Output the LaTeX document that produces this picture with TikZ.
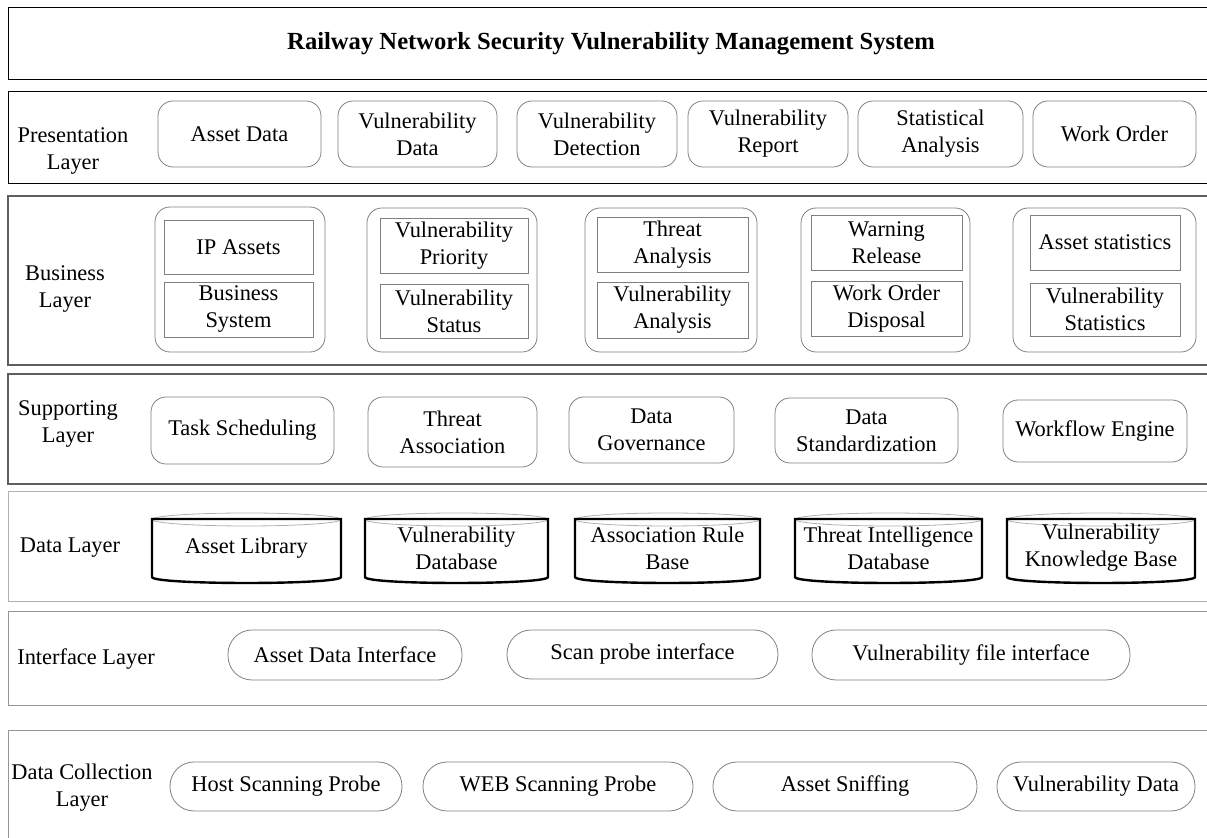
\documentclass[tikz,border=0pt]{standalone}
\usepackage{fontspec}
\setmainfont{Liberation Serif}
\usetikzlibrary{positioning,fit}

\definecolor{boxgray}{HTML}{808080}
\definecolor{laygray}{HTML}{5E5E5E}
\definecolor{palegray}{HTML}{B0B0B0}
\definecolor{midgray}{HTML}{959595}

\begin{document}
\begin{tikzpicture}[x=0.5pt,y=-0.5pt,font=\fontsize{11.2}{13.5}\selectfont]
		\tikzstyle{rbox}=[draw=boxgray,rounded corners=7.5pt,inner sep=0pt,line width=0.4pt]
		\tikzstyle{ibox}=[draw=boxgray,inner sep=0pt,line width=0.4pt]
		\tikzstyle{pill}=[draw=boxgray,rounded corners=12pt,inner sep=0pt,line width=0.4pt]
		\tikzstyle{lbl}=[align=center,inner sep=0pt]
		\clip (0,0) rectangle (1207,838);
		% layers
		\draw[line width=0.5pt] (8,8) rectangle (1215,80);
		\draw[line width=0.5pt] (8,92) rectangle (1215,184);
		\draw[laygray,line width=0.9pt] (8,196) rectangle (1215,365);
		\draw[laygray,line width=0.9pt] (8,374) rectangle (1215,484);
		\draw[palegray,line width=0.5pt] (8,492) rectangle (1215,602);
		\draw[midgray,line width=0.5pt] (8,612) rectangle (1215,706);
		\draw[midgray,line width=0.5pt] (8,731) rectangle (1215,850);
		\node[font=\fontsize{12.3}{14}\selectfont\bfseries] (title) at (611,44) {Railway Network Security Vulnerability Management System};
		% presentation layer
		\node[lbl] (pres) at (73,151) {Presentation\\Layer};
		\node[rbox,fit={(158,101) (321,167)},label={[lbl]center:Asset Data}] (p1) {};
		\node[rbox,fit={(338,101) (497,167)},label={[lbl]center:Vulnerability\\Data}] (p2) {};
		\node[rbox,fit={(517,101) (677,167)},label={[lbl]center:Vulnerability\\Detection}] (p3) {};
		\node[rbox,fit={(688,101) (848,167)},label={[lbl]center:Vulnerability\\Report}] (p4) {};
		\node[rbox,fit={(858,101) (1023,167)},label={[lbl]center:Statistical\\Analysis}] (p5) {};
		\node[rbox,fit={(1033,101) (1196,167)},label={[lbl]center:Work Order}] (p6) {};
		% business layer
		\node[lbl] (bus) at (65,289) {Business\\Layer};
		\node[rbox,fit={(155,207) (325,352)}] (b1) {};
		\node[ibox,fit={(164,220) (313,274)},label={[lbl]center:IP Assets}] (b1a) {};
		\node[ibox,fit={(164,282) (313,337)},label={[lbl]center:Business\\System}] (b1b) {};
		\node[rbox,fit={(367,208) (537,352)}] (b2) {};
		\node[ibox,fit={(380,218) (528,273)},label={[lbl]center:Vulnerability\\Priority}] (b2a) {};
		\node[ibox,fit={(380,284) (528,338)},label={[lbl]center:Vulnerability\\Status}] (b2b) {};
		\node[rbox,fit={(585,208) (757,352)}] (b3) {};
		\node[ibox,fit={(597,217) (748,272)},label={[lbl]center:Threat\\Analysis}] (b3a) {};
		\node[ibox,fit={(597,282) (748,338)},label={[lbl]center:Vulnerability\\Analysis}] (b3b) {};
		\node[rbox,fit={(801,208) (970,352)}] (b4) {};
		\node[ibox,fit={(811,215) (962,270)},label={[lbl]center:Warning\\Release}] (b4a) {};
		\node[ibox,fit={(811,281) (962,336)},label={[lbl]center:Work Order\\Disposal}] (b4b) {};
		\node[rbox,fit={(1013,208) (1196,352)}] (b5) {};
		\node[ibox,fit={(1030,215) (1180,270)},label={[lbl]center:Asset statistics}] (b5a) {};
		\node[ibox,fit={(1030,283) (1180,336)},label={[lbl]center:Vulnerability\\Statistics}] (b5b) {};
		% supporting layer
		\node[lbl] (sup) at (68,424) {Supporting\\Layer};
		\node[rbox,fit={(151,397) (334,464)},label={[lbl]center:Task Scheduling}] (s1) {};
		\node[rbox,fit={(368,397) (537,467)},label={[lbl]center:Threat\\Association}] (s2) {};
		\node[rbox,fit={(569,397) (734,463)},label={[lbl]center:Data\\Governance}] (s3) {};
		\node[rbox,fit={(775,398) (958,463)},label={[lbl]center:Data\\Standardization}] (s4) {};
		\node[rbox,fit={(1003,400) (1187,462)},label={[lbl]center:Workflow Engine}] (s5) {};
		% data layer
		\node[lbl] (dat) at (70,548) {Data Layer};
		\foreach \a/\b/\n/\t in {152/341/d1/Asset Library, 365/548/d2/Vulnerability\\Database,
			575/760/d3/Association Rule\\Base, 795/982/d4/Threat Intelligence\\Database,
			1007/1195/d5/Vulnerability\\Knowledge Base}{
			\draw[palegray,line width=0.4pt] ({(\a+\b)/2},519.5) ellipse [x radius={(\b-\a)/2}, y radius=6.5];
			\draw[line width=1.2pt] (\a,519) -- (\a,577) .. controls (\a,585) and (\b,585) .. (\b,577) -- (\b,519) -- cycle;
			\node[lbl] (\n) at ({(\a+\b)/2},548) {\t};
		}
		% interface layer
		\node[lbl] (intf) at (86,659) {Interface Layer};
		\node[pill,fit={(228,630) (462,680)},label={[lbl]center:Asset Data Interface}] (i1) {};
		\node[pill,fit={(507,630) (778,679)},label={[lbl]center:Scan probe interface}] (i2) {};
		\node[pill,fit={(812,630) (1130,680)},label={[lbl]center:Vulnerability file interface}] (i3) {};
		% data collection layer
		\node[lbl] (coll) at (82,788) {Data Collection\\Layer};
		\node[pill,fit={(170,762) (402,811)},label={[lbl]center:Host Scanning Probe}] (c1) {};
		\node[pill,fit={(423,762) (693,811)},label={[lbl]center:WEB Scanning Probe}] (c2) {};
		\node[pill,fit={(713,762) (977,811)},label={[lbl]center:Asset Sniffing}] (c3) {};
		\node[pill,fit={(997,762) (1195,811)},label={[lbl]center:Vulnerability Data}] (c4) {};
	\end{tikzpicture}
\end{document}
